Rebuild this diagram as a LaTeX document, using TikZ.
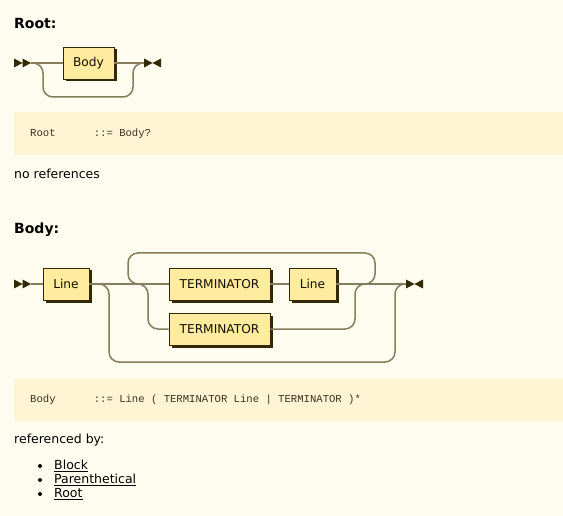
\documentclass[tikz,border=0pt]{standalone}
\usepackage{fontspec}
\setmainfont{DejaVu Sans}
\newfontfamily\codefont{Liberation Mono}
\usetikzlibrary{shadows}
\definecolor{bgc}{HTML}{FFFCF0}
\definecolor{codebg}{HTML}{FFF4D4}
\definecolor{boxf}{HTML}{FFEC9E}
\definecolor{boxd}{HTML}{332900}
\definecolor{railc}{HTML}{857D5C}
\definecolor{txt}{HTML}{141000}
\definecolor{codetxt}{HTML}{3A3220}
\tikzset{
  rr/.style={draw=railc, line width=1.5pt, rounded corners=10pt},
  nt/.style={draw=boxd, fill=boxf, line width=0.8pt, minimum height=32pt, inner sep=0pt,
    font=\fontsize{12.2}{14}\selectfont, text=txt,
    general shadow={fill=boxd, shadow xshift=2.5pt, shadow yshift=-2.5pt}},
  head/.style={anchor=west, inner sep=0pt, font=\fontsize{14}{16}\selectfont\bfseries, text=black},
  plain/.style={anchor=west, inner sep=0pt, font=\fontsize{12.5}{14}\selectfont, text=black},
  codebox/.style={anchor=north west, fill=codebg, inner sep=0pt, minimum width=549pt, minimum height=43pt},
  codetext/.style={anchor=west, inner sep=0pt, font=\codefont\fontsize{10.6}{12}\selectfont, text=codetxt},
  startmark/.pic={\fill[boxd] (0,-4.5) -- (8.5,0) -- (0,4.5) -- cycle (8.5,-4.5) -- (17,0) -- (8.5,4.5) -- cycle;},
  endmark/.pic={\fill[boxd] (0,-4.5) -- (8.5,0) -- (0,4.5) -- cycle (17,-4.5) -- (8.5,0) -- (17,4.5) -- cycle;}
}
\begin{document}
\begin{tikzpicture}[x=1pt,y=-1pt]
\fill[bgc] (0,0) rectangle (563,516);
\useasboundingbox (0,0) rectangle (563,516);

% ---------- Root ----------
\node[head] (roothead) at (14,23) {Root:};
\pic at (14,63) {startmark};
\coordinate (rs) at (31,63);
\node[nt, minimum width=51pt] (body) at (88.5,63) {Body};
\coordinate (re) at (144,63);
\pic at (144,63) {endmark};
\draw[rr] (rs) -- (body.west);
\draw[rr] (body.east) -- (re);
\draw[rr] (rs) -- (43,63) -- (43,97) -- (133,97) -- (133,63) -- (re);

\node[codebox] (rootcode) at (14,112) {};
\node[codetext] (rootcodetext) at (30,134) {Root\ \ \ \ \ \ ::= Body?};
\node[plain] (noref) at (14,174) {no references};

% ---------- Body ----------
\node[head] (bodyhead) at (14,230) {Body:};
\pic at (14,284) {startmark};
\coordinate (bs) at (31,284);
\node[nt, minimum width=46pt] (line1) at (66,284) {Line};
\node[nt, minimum width=101pt] (t1) at (219.5,284) {TERMINATOR};
\node[nt, minimum width=47pt] (line2) at (312.5,284) {Line};
\node[nt, minimum width=101pt] (t2) at (219.5,329) {TERMINATOR};
\coordinate (be) at (406,284);
\pic at (406,284) {endmark};
\coordinate (la) at (365,284);
\coordinate (lb) at (138,284);

\draw[rr] (bs) -- (line1.west);
\draw[rr] (line1.east) -- (t1.west);
\draw[rr] (t1.east) -- (line2.west);
\draw[rr] (line2.east) -- (be);
% repeat loop
\draw[rr] (la) -- (375,284) -- (375,253) -- (128,253) -- (128,284) -- (lb);
% alternative branch
\draw[rr] (lb) -- (148,284) -- (148,329) -- (t2.west);
\draw[rr] (t2.east) -- (355,329) -- (355,284) -- (la);
% bypass
\draw[rr] (line1.east) -- (109,284) -- (109,362) -- (395,362) -- (395,284) -- (be);

\node[codebox] (bodycode) at (14,378) {};
\node[codetext] (bodycodetext) at (30,400) {Body\ \ \ \ \ \ ::= Line ( TERMINATOR Line | TERMINATOR )*};
\node[plain] (refby) at (14,440) {referenced by:};

\fill[black] (40,466) circle (2pt);
\fill[black] (40,480) circle (2pt);
\fill[black] (40,494) circle (2pt);
\node[plain] (l1) at (54,466) {\underline{Block}};
\node[plain] (l2) at (54,480) {\underline{Parenthetical}};
\node[plain] (l3) at (54,494) {\underline{Root}};
\end{tikzpicture}
\end{document}
